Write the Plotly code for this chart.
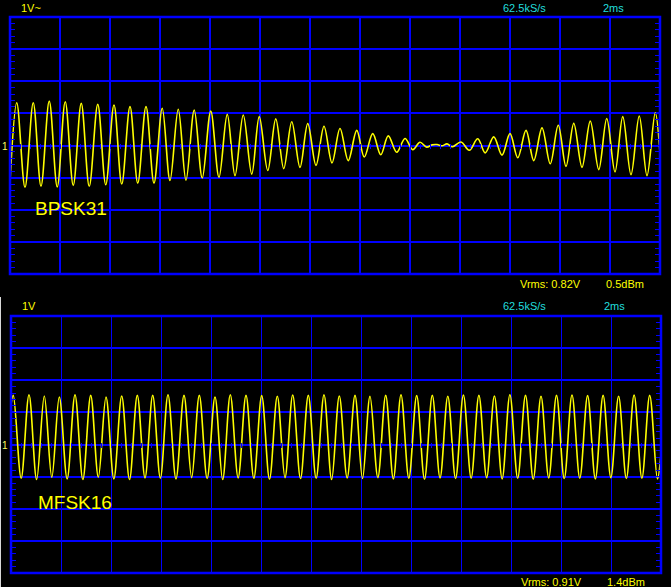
import plotly.graph_objects as go

# ---------------- data ----------------
# BPSK31 trace: successive extremes (time in ms, value in V / div)
bpsk_t = [0.00, 0.27, 0.60, 0.93, 1.24, 1.57, 1.89, 2.21, 2.53, 2.85, 3.17, 3.51, 3.83, 4.16,
          4.47, 4.80, 5.11, 5.44, 5.76, 6.09, 6.40, 6.73, 7.04, 7.37, 7.69, 8.03, 8.36, 8.69,
          9.00, 9.33, 9.67, 9.97, 10.31, 10.63, 10.95, 11.27, 11.60, 11.91, 12.24, 12.56, 12.88,
          13.20, 13.53, 13.87, 14.17, 14.51, 14.83, 15.13, 15.47, 15.80, 16.11, 16.40, 16.67,
          16.88, 17.08, 17.28, 17.48, 17.70, 18.04, 18.37, 18.71, 19.01, 19.35, 19.68, 20.00,
          20.31, 20.64, 20.95, 21.28, 21.61, 21.93, 22.24, 22.55, 22.88, 23.21, 23.55, 23.87,
          24.20, 24.51, 24.84, 25.17, 25.48, 25.81, 26.00]
bpsk_v = [-1.15, 1.33, -1.30, 1.33, -1.27, 1.38, -1.29, 1.36, -1.24, 1.31, -1.27, 1.28, -1.22, 1.26,
          -1.20, 1.21, -1.17, 1.21, -1.17, 1.16, -1.09, 1.13, -1.08, 1.10, -1.01, 1.07, -0.99, 0.97,
          -0.94, 0.95, -0.89, 0.90, -0.78, 0.83, -0.72, 0.74, -0.68, 0.68, -0.62, 0.60, -0.54,
          0.53, -0.47, 0.47, -0.36, 0.37, -0.29, 0.30, -0.21, 0.22, -0.13, 0.10, -0.05,
          0.02, 0.03, -0.01, 0.05, -0.04, 0.11, -0.15, 0.21, -0.23, 0.27, -0.30, 0.37,
          -0.38, 0.47, -0.47, 0.55, -0.57, 0.63, -0.65, 0.69, -0.68, 0.76, -0.75, 0.84,
          -0.82, 0.90, -0.91, 0.92, -0.94, 1.02, -0.25]

# MFSK16 trace: peaks and troughs (time in ms, value)
mfsk_peak_t = [0.092, 0.720, 1.332, 1.932, 2.560, 3.188, 3.800, 4.428, 5.052, 5.668, 6.280, 6.920,
               7.532, 8.160, 8.772, 9.400, 10.028, 10.652, 11.268, 11.892, 12.520, 13.132, 13.760,
               14.360, 14.988, 15.600, 16.228, 16.852, 17.472, 18.096, 18.716, 19.336, 19.956,
               20.580, 21.200, 21.820, 22.440, 23.064, 23.684, 24.304, 24.924, 25.548]
mfsk_peak_v = [1.53, 1.55, 1.51, 1.48, 1.55, 1.53, 1.48, 1.51, 1.53, 1.53, 1.55, 1.53, 1.53, 1.48,
               1.55, 1.53, 1.52, 1.50, 1.54, 1.53, 1.55, 1.51, 1.53, 1.50, 1.53, 1.55, 1.52, 1.53,
               1.50, 1.54, 1.53, 1.51, 1.55, 1.53, 1.50, 1.53, 1.54, 1.52, 1.53, 1.50, 1.54, 1.53]
mfsk_trough_t = [0.406, 1.026, 1.632, 2.246, 2.874, 3.494, 4.114, 4.740, 5.360, 5.974, 6.600, 7.226,
                 7.846, 8.466, 9.086, 9.714, 10.340, 10.960, 11.580, 12.206, 12.826, 13.446, 14.060,
                 14.674, 15.294, 15.914, 16.540, 17.162, 17.784, 18.406, 19.026, 19.646, 20.268,
                 20.890, 21.510, 22.130, 22.752, 23.374, 23.994, 24.614, 25.236, 25.858]
mfsk_trough_v = [-1.05, -1.09, -1.02, -1.07, -1.09, -1.02, -1.07, -1.09, -1.04, -1.05, -1.07, -1.03,
                 -1.06, -1.09, -1.04, -1.05, -1.08, -1.03, -1.06, -1.05, -1.09, -1.04, -1.06, -1.03,
                 -1.07, -1.05, -1.08, -1.04, -1.06, -1.05, -1.03, -1.07, -1.05, -1.08, -1.04, -1.06,
                 -1.05, -1.07, -1.03, -1.06, -1.05, -1.07]
mfsk_start = (0.0, 1.25)
mfsk_end = (26.0, -0.30)

time_range = [0, 26]      # 13 div x 2 ms
volt_range = [-4, 4]      # 8 div x 1 V

# ---------------- layout helpers ----------------
W, H = 671, 587
def px(x):
    return x / W
def py(y):
    return 1 - y / H

BLUE = "#0000ff"
YEL = "#ffff00"
CYAN = "#22dddd"
FONT = "Liberation Sans"

top_x = [px(10), px(660)]
top_y = [py(274), py(17)]
bot_x = [px(11), px(661)]
bot_y = [py(573), py(316)]

# build MFSK series from peaks and troughs
pts = [mfsk_start] + list(zip(mfsk_peak_t, mfsk_peak_v)) + list(zip(mfsk_trough_t, mfsk_trough_v)) + [mfsk_end]
pts.sort(key=lambda p: p[0])
mfsk_t = [p[0] for p in pts]
mfsk_v = [p[1] for p in pts]

fig = go.Figure()
fig.add_trace(go.Scatter(x=bpsk_t, y=bpsk_v, mode="lines", xaxis="x", yaxis="y",
                         line=dict(color=YEL, width=1.6, shape="spline", smoothing=1.0),
                         showlegend=False, hoverinfo="skip"))
fig.add_trace(go.Scatter(x=mfsk_t, y=mfsk_v, mode="lines", xaxis="x2", yaxis="y2",
                         line=dict(color=YEL, width=1.6, shape="spline", smoothing=1.0),
                         showlegend=False, hoverinfo="skip"))
# dummy traces to activate overlay axes (ticks only)
for xa, ya in [("x3", "y"), ("x", "y3"), ("x4", "y2"), ("x2", "y4")]:
    fig.add_trace(go.Scatter(x=[], y=[], xaxis=xa, yaxis=ya, showlegend=False, hoverinfo="skip"))

def main_x(domain, anchor, gw):
    return dict(domain=domain, anchor=anchor, range=time_range, dtick=2, tick0=0,
                showgrid=True, gridcolor=BLUE, gridwidth=gw, zeroline=False,
                showticklabels=False, ticks="", showline=False, fixedrange=True)

def main_y(domain, anchor, gw):
    return dict(domain=domain, anchor=anchor, range=volt_range, dtick=1, tick0=0,
                showgrid=True, gridcolor=BLUE, gridwidth=gw, zeroline=False,
                showticklabels=False, ticks="inside", ticklen=5, tickcolor=BLUE, tickwidth=1,
                minor=dict(dtick=0.2, ticks="inside", ticklen=5, tickcolor=BLUE, tickwidth=1, showgrid=False),
                showline=False, fixedrange=True)

def right_y(over, anchor):
    return dict(overlaying=over, anchor=anchor, side="right", range=volt_range, dtick=1, tick0=0,
                showgrid=False, zeroline=False, showticklabels=False,
                ticks="inside", ticklen=5, tickcolor=BLUE, tickwidth=1,
                minor=dict(dtick=0.2, ticks="inside", ticklen=5, tickcolor=BLUE, tickwidth=1, showgrid=False),
                showline=False, fixedrange=True)

def center_x(over, pos):
    return dict(overlaying=over, anchor="free", position=pos, side="bottom", range=time_range,
                dtick=2, tick0=0, showgrid=False, zeroline=False, showticklabels=False,
                ticks="outside", ticklen=5, tickcolor=BLUE, tickwidth=1,
                minor=dict(dtick=0.4, ticks="outside", ticklen=5, tickcolor=BLUE, tickwidth=1, showgrid=False),
                showline=False, fixedrange=True)

fig.update_layout(
    width=W, height=H, margin=dict(l=0, r=0, t=0, b=0),
    paper_bgcolor="black", plot_bgcolor="black",
    xaxis=main_x(top_x, "y", 2),
    yaxis=main_y(top_y, "x", 2),
    xaxis2=main_x(bot_x, "y2", 1),
    yaxis2=main_y(bot_y, "x2", 2),
    yaxis3=right_y("y", "x"),
    yaxis4=right_y("y2", "x2"),
    xaxis3=center_x("x", (H - 145.5 + 2.5) / H),
    xaxis4=center_x("x2", (H - 444.5 + 2.5) / H),
)

shapes = [
    dict(type="rect", xref="x domain", yref="y domain", x0=0, x1=1, y0=0, y1=1,
         line=dict(color=BLUE, width=2.5), layer="above"),
    dict(type="rect", xref="x2 domain", yref="y2 domain", x0=0, x1=1, y0=0, y1=1,
         line=dict(color=BLUE, width=2.5), layer="above"),
    dict(type="line", xref="paper", yref="paper", x0=px(0.5), x1=px(0.5), y0=py(297), y1=0,
         line=dict(color="#d8d8d8", width=1)),
]
fig.update_layout(shapes=shapes)

def ann(text, x, y, color, size=11):
    return dict(text=text, xref="paper", yref="paper", x=px(x), y=py(y), xanchor="left",
                yanchor="middle", showarrow=False, font=dict(family=FONT, size=size, color=color),
                borderpad=0)

annotations = [
    ann("1V~", 20, 8, YEL),
    ann("62.5kS/s", 502, 8, CYAN),
    ann("2ms", 602, 8, CYAN),
    ann("Vrms: 0.82V", 519, 284, YEL),
    ann("0.5dBm", 605, 284, YEL),
    ann("1V", 21, 306, YEL),
    ann("62.5kS/s", 502, 306, CYAN),
    ann("2ms", 603, 306, CYAN),
    ann("Vrms: 0.91V", 520, 582, YEL),
    ann("1.4dBm", 606, 582, YEL),
    ann("BPSK31", 34, 208, YEL, 19),
    ann("MFSK16", 37, 502, YEL, 19),
    ann("1", 1, 147, "#ffff66", 10),
    ann("1", 1, 445, "#ffff66", 10),
]
fig.update_layout(annotations=annotations)

fig.write_html("out.html")
